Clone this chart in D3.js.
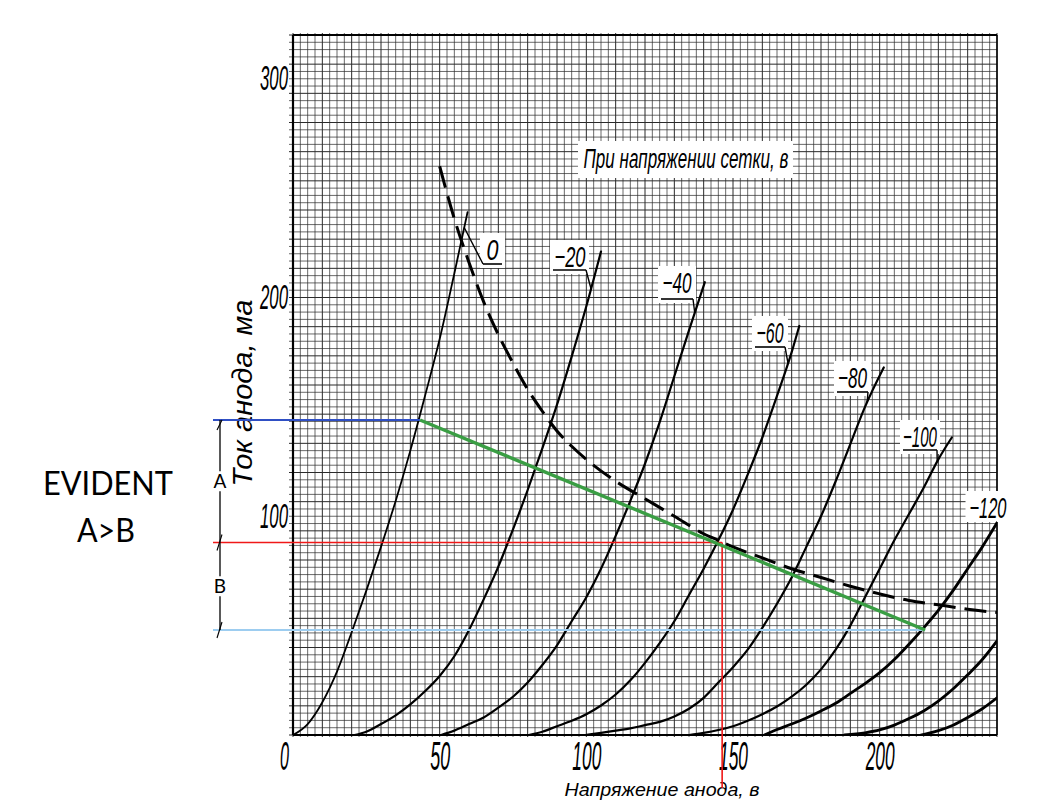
<!DOCTYPE html>
<html><head><meta charset="utf-8">
<script src="https://cdn.jsdelivr.net/npm/d3@7"></script>
<style>body{margin:0;background:#fff} svg{display:block}</style>
</head><body><svg id="c" width="1037" height="800"></svg>
<script>
// ---------- data (anode voltage V, anode current mA) ----------
const gridVoltageLabels = ["0","−20","−40","−60","−80","−100","−120","−140","−160"];
const xTickValues = [0,50,100,150,200];
const yTickValues = [100,200,300];

const curveG0    = [[0,0],[5,5],[10,15],[15,29],[20,47],[25,66],[30,86],[35,107],[40,130],[45,155],[50,181],[55,211],[59.5,239]];
const curveG20   = [[21,0],[25,1.5],[30,5],[35,9],[40,14],[45,20],[50,27],[55,36],[60,48],[65,62],[70,77],[75,94],[80,112],[85,131],[90,151],[95,173],[100,196],[105,221]];
const curveG40   = [[50.5,0],[55,2],[60,5],[65,8],[70,12.5],[75,17.5],[80,24],[85,32],[90,41],[95,52],[100,63],[105,76],[110,91],[115,107],[120,124],[125,143],[130,164],[135,185],[140.4,207]];
const curveG60   = [[80.4,0],[85,1.5],[90,4],[95,6.5],[100,9.5],[105,13.5],[110,18.5],[115,25],[120,33],[125,42],[130,52],[135,64],[140,76],[145,89],[150,103],[155,119],[160,136],[165,155],[170,175],[172.6,187]];
const curveG80   = [[99.7,0],[105,1],[110,2],[115,3],[120,4.5],[125,6],[130,8.5],[135,12],[140,17],[145,24],[150,31],[155,39],[160,49],[165,60],[170,72],[175,86],[180,100],[185,116],[190,133],[195,150],[201.4,168]];
const curveG100  = [[135,0],[140,1],[145,2.3],[150,4],[155,6.5],[160,9.5],[165,13],[170,17.5],[175,23],[180,30],[185,39],[190,50],[195,63],[200,76],[205,89],[210,101],[215,113],[220,126],[224.6,136]];
const curveG120  = [[160.7,0],[165,2.5],[170,5],[175,7.8],[180,11],[185,14.5],[190,19],[195,23.5],[200,28.5],[205,34.5],[210,41.5],[215,49],[220,57],[225,66],[230,76],[235,86],[240,97]];
const curveG140  = [[188,0],[195,1],[200,2.3],[205,4.5],[210,7.5],[215,11],[220,15.5],[225,21],[230,27.5],[235,34.5],[240,43]];
const curveG160  = [[214,0],[220,2],[225,4.5],[230,8],[235,12],[240,17]];
const gridCurves = [curveG0,curveG20,curveG40,curveG60,curveG80,curveG100,curveG120,curveG140,curveG160];

const dissipationCurve = [[50,260],[55,236],[60,216],[65,198],[70,183],[75,170],[80,158],[85,148],[90,139],[95,132],[100,126],[110,116],[120,108],[130,100],[140,92],[145,89],[150,86],[160,81],[170,76],[180,72],[190,68],[200,64.5],[210,61.5],[220,59.5],[230,57.5],[240,56]];

const loadLineV = [43.3, 215.5];
const loadLineI = [144, 48];
const quiescentV = 146.3, quiescentI = 88;

// ---------- layout ----------
const svg = d3.select("#c");
const x = d3.scaleLinear().domain([0,240]).range([293,997]);
const y = d3.scaleLinear().domain([0,320]).range([735,35]);
const FONT = "'Liberation Sans', Arial, sans-serif";

svg.append("defs").append("clipPath").attr("id","plot")
  .append("rect").attr("x",x(0)).attr("y",y(320)).attr("width",x(240)-x(0)).attr("height",y(0)-y(320));

// grid paper
const gridG = svg.append("g");
const gxVals = d3.range(0,97).map(i=>i*2.5);
const gyVals = d3.range(0,97).map(i=>i*10/3);
gridG.selectAll("line.v").data(gxVals).join("line")
  .attr("x1",d=>x(d)).attr("x2",d=>x(d)).attr("y1",y(320)-2).attr("y2",y(0)+2)
  .attr("stroke","#2a2a2a").attr("stroke-width",(d,i)=>(i%4===0)?1.0:0.7);
gridG.selectAll("line.h").data(gyVals).join("line")
  .attr("x1",x(0)-4).attr("x2",x(240)).attr("y1",d=>y(d)).attr("y2",d=>y(d))
  .attr("stroke","#2a2a2a").attr("stroke-width",(d,i)=>(i%4===0)?1.0:0.7);
// frame
svg.append("line").attr("x1",x(0)).attr("x2",x(0)).attr("y1",y(320)).attr("y2",y(0)).attr("stroke","#000").attr("stroke-width",2.2);
svg.append("line").attr("x1",x(0)).attr("x2",x(240)).attr("y1",y(320)).attr("y2",y(320)).attr("stroke","#000").attr("stroke-width",2.2);
svg.append("line").attr("x1",x(0)).attr("x2",x(240)).attr("y1",y(0)).attr("y2",y(0)).attr("stroke","#000").attr("stroke-width",2.2);
svg.append("line").attr("x1",x(240)).attr("x2",x(240)).attr("y1",y(320)).attr("y2",y(0)).attr("stroke","#000").attr("stroke-width",1.5);

// label white boxes + labels
function vAtI(pts, I){
  for(let i=0;i<pts.length-1;i++){
    const a=pts[i], b=pts[i+1];
    if(a[1]<=I && b[1]>=I) return a[0]+(I-a[1])/(b[1]-a[1])*(b[0]-a[0]);
  }
  return pts[pts.length-1][0];
}
const labelLayout = [
  {cx:492.5, base:260, w:12, ul:[483,502,264], side:"left",  leadI:232},
  {cx:570,   base:267, w:31, ul:[553,586,270], side:"right", leadI:204},
  {cx:677,   base:293, w:29, ul:[661,693,299], side:"right", leadI:193},
  {cx:770,   base:343, w:27, ul:[755,785,347], side:"right", leadI:170},
  {cx:852.5, base:388, w:29, ul:[837,868,392], side:"right", leadI:152},
  {cx:920,   base:447, w:34, ul:[903,937,450], side:"right", leadI:125},
  {cx:988,   base:518, w:37, ul:null}
];
const boxG = svg.append("g");
labelLayout.forEach(l=>{
  const x0 = l.ul ? Math.min(l.ul[0], l.cx-l.w/2)-3 : l.cx-l.w/2-4;
  const x1 = l.ul ? Math.max(l.ul[1], l.cx+l.w/2)+3 : l.cx+l.w/2+4;
  const y1 = l.ul ? l.ul[2]+4 : l.base+4;
  boxG.append("rect").attr("x",x0).attr("y",l.base-27).attr("width",x1-x0).attr("height",y1-(l.base-27)).attr("fill","#fff");
});
// annotation box
boxG.append("rect").attr("x",578).attr("y",141).attr("width",215).attr("height",37).attr("fill","#fff");

// curves
const line = d3.line().x(d=>x(d[0])).y(d=>y(d[1])).curve(d3.curveMonotoneX);
const curveG = svg.append("g").attr("clip-path","url(#plot)");
curveG.selectAll("path.g").data(gridCurves).join("path")
  .attr("d",line).attr("fill","none").attr("stroke","#000")
  .attr("stroke-width",(d,i)=> i===0 ? 1.8 : (i>=6 ? 2.8 : 2.2))
  .attr("stroke-linecap","round");
curveG.append("path").datum(dissipationCurve).attr("d",line).attr("fill","none")
  .attr("stroke","#000").attr("stroke-width",3).attr("stroke-dasharray","22,9");

// curve labels
const labG = svg.append("g").attr("font-family",FONT).attr("font-style","italic");
labelLayout.forEach((l,i)=>{
  labG.append("text").attr("x",l.cx).attr("y",l.base).attr("text-anchor","middle")
    .attr("font-size",30).attr("textLength",l.w).attr("lengthAdjust","spacingAndGlyphs")
    .text(gridVoltageLabels[i]);
  if(l.ul){
    labG.append("line").attr("x1",l.ul[0]).attr("x2",l.ul[1]).attr("y1",l.ul[2]).attr("y2",l.ul[2]).attr("stroke","#000").attr("stroke-width",1.6);
    const sx = l.side==="left" ? l.ul[0] : l.ul[1];
    const tv = vAtI(gridCurves[i], l.leadI);
    labG.append("line").attr("x1",sx).attr("y1",l.ul[2]).attr("x2",x(tv)).attr("y2",y(l.leadI)).attr("stroke","#000").attr("stroke-width",1.4);
  }
});
labG.append("text").attr("x",686).attr("y",168).attr("text-anchor","middle").attr("font-size",27)
  .attr("textLength",205).attr("lengthAdjust","spacingAndGlyphs").text("При напряжении сетки, в");

// axes
const yAxis = svg.append("g").attr("transform",`translate(${x(0)},0)`)
  .call(d3.axisLeft(y).tickValues(yTickValues).tickSize(0).tickPadding(5));
yAxis.select(".domain").remove();
yAxis.selectAll("text").attr("font-family",FONT).attr("font-style","italic").attr("font-size",35)
  .attr("fill","#000").attr("textLength",28).attr("lengthAdjust","spacingAndGlyphs");
const xAxis = svg.append("g").attr("transform",`translate(0,${y(0)})`)
  .call(d3.axisBottom(x).tickValues(xTickValues).tickSize(0).tickPadding(7));
xAxis.select(".domain").remove();
xAxis.selectAll("text").attr("font-family",FONT).attr("font-style","italic").attr("font-size",40)
  .attr("fill","#000").attr("textLength",d=>String(d).length*9+(String(d).length>1?2:0))
  .attr("lengthAdjust","spacingAndGlyphs").attr("dx",d=>d===0?-9:0);

svg.append("text").attr("transform","translate(252,393) rotate(-90)").attr("text-anchor","middle")
  .attr("font-family",FONT).attr("font-style","italic").attr("font-size",27)
  .attr("textLength",187).attr("lengthAdjust","spacingAndGlyphs").text("Ток анода, ма");
svg.append("text").attr("x",662).attr("y",796).attr("text-anchor","middle")
  .attr("font-family",FONT).attr("font-style","italic").attr("font-size",18)
  .attr("textLength",195).attr("lengthAdjust","spacingAndGlyphs").text("Напряжение анода, в");

// load-line annotation
const leftX = 213, dimX = 220;
const ann = svg.append("g");
ann.append("line").attr("x1",leftX).attr("x2",x(loadLineV[1])).attr("y1",y(loadLineI[1])).attr("y2",y(loadLineI[1]))
  .attr("stroke","#9dcdf0").attr("stroke-width",2.2);
ann.append("line").attr("x1",leftX).attr("x2",x(loadLineV[0])).attr("y1",y(loadLineI[0])).attr("y2",y(loadLineI[0]))
  .attr("stroke","#2f4fc4").attr("stroke-width",2);
ann.append("line").attr("x1",leftX).attr("x2",x(quiescentV)).attr("y1",y(quiescentI)).attr("y2",y(quiescentI))
  .attr("stroke","#f01818").attr("stroke-width",1.6);
ann.append("line").attr("x1",x(quiescentV)).attr("x2",x(quiescentV)).attr("y1",y(quiescentI)).attr("y2",788)
  .attr("stroke","#f01818").attr("stroke-width",1.6);
ann.append("line").attr("x1",x(loadLineV[0])).attr("x2",x(loadLineV[1])).attr("y1",y(loadLineI[0])).attr("y2",y(loadLineI[1]))
  .attr("stroke","#3a9e44").attr("stroke-width",3.4);
// dimension line
ann.append("line").attr("x1",dimX).attr("x2",dimX).attr("y1",y(loadLineI[0])).attr("y2",y(loadLineI[1])).attr("stroke","#000").attr("stroke-width",1.3);
[[y(loadLineI[0]),1],[y(quiescentI),0],[y(loadLineI[1]),-1]].forEach(([yy,k])=>{
  const y0 = k===1 ? yy+10 : yy+8, y1 = k===-1 ? yy-8 : (k===1? yy : yy-8);
  ann.append("line").attr("x1",dimX-3).attr("y1",y0).attr("x2",dimX+2).attr("y2",y1).attr("stroke","#000").attr("stroke-width",1.1);
});
const abG = svg.append("g").attr("font-family","Lato, 'Open Sans', sans-serif").attr("font-size",19).attr("text-anchor","middle");
[["A",(y(loadLineI[0])+y(quiescentI))/2],["B",(y(quiescentI)+y(loadLineI[1]))/2]].forEach(([t,cy])=>{
  abG.append("rect").attr("x",dimX-7).attr("y",cy-10).attr("width",14).attr("height",20).attr("fill","#fff");
  abG.append("text").attr("x",dimX).attr("y",cy+7).text(t);
});
const ev = svg.append("g").attr("font-family","Lato, 'Open Sans', sans-serif").attr("font-size",33).attr("text-anchor","middle").attr("fill","#000");
ev.append("text").attr("x",108).attr("y",495).attr("textLength",130).attr("lengthAdjust","spacingAndGlyphs").text("EVIDENT");
ev.append("text").attr("x",106).attr("y",542).attr("textLength",58).attr("lengthAdjust","spacingAndGlyphs").text("A>B");
</script></body></html>
